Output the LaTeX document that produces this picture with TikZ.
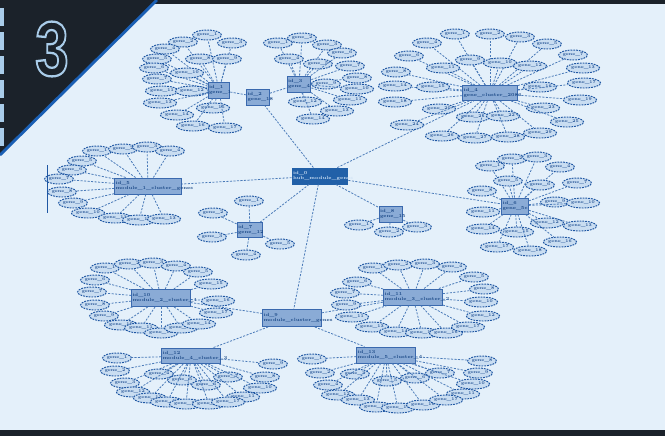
\documentclass[tikz,border=0pt]{standalone}
\usepackage{fontspec}
\newfontfamily\numfont{Liberation Sans}
\usetikzlibrary{shapes.geometric}
\definecolor{bg}{HTML}{E4F0FA}
\definecolor{corner}{HTML}{1B222A}
\definecolor{edgeblue}{HTML}{1A5FB4}
\definecolor{strip}{HTML}{A9CCE9}
\definecolor{genefill}{HTML}{C9DDF1}
\definecolor{genedraw}{HTML}{1F57A3}
\definecolor{genetext}{HTML}{1F4F92}
\definecolor{hubfill}{HTML}{8AABD6}
\definecolor{hubdraw}{HTML}{3A69AE}
\definecolor{hubtext}{HTML}{1A4886}
\definecolor{mainfill}{HTML}{2160A8}
\definecolor{maintext}{HTML}{D0E2F5}
\definecolor{linkcol}{HTML}{4A7AB8}
\newcommand\outlined[1]{\special{pdf:literal direct 2 Tr 1.3 w 0.663 0.8 0.914 RG}#1\special{pdf:literal direct 0 Tr}}
\tikzset{gene/.style={ellipse,draw=genedraw,fill=genefill,line width=0.55pt,dash pattern=on 1pt off 0.6pt,minimum width=0.5cm,minimum height=0.2cm,inner sep=0pt,font=\bfseries\fontsize{2.4}{3}\selectfont,text=genetext}}
\tikzset{hub/.style={rectangle,draw=hubdraw,fill=hubfill,line width=0.55pt,inner sep=0.5pt,minimum height=0.32cm,align=left,font=\bfseries\fontsize{2.6}{3}\selectfont,text=hubtext}}
\tikzset{mainhub/.style={hub,fill=mainfill,draw=mainfill,text=maintext}}
\tikzset{link/.style={draw=linkcol,line width=0.45pt,dash pattern=on 1.2pt off 0.8pt}}

\begin{document}
\begin{tikzpicture}[x=0.02cm,y=-0.02cm]
    \useasboundingbox (0,0) rectangle (665,436);
    % background and frame
    \fill[bg] (0,0) rectangle (665,436);
    \fill[corner] (0,0) rectangle (665,4);
    \fill[corner] (0,430) rectangle (665,436);
    \fill[corner] (0,0) -- (157,0) -- (0,155) -- cycle;
    \foreach \s in {8,32,56,80,104,128}
        \fill[strip] (0,\s) rectangle (4,\s+18);
    \coordinate (c1) at (157,0);
    \coordinate (c2) at (0,155);
    \draw[edgeblue,line width=1.6pt] (c1) -- (c2);
    \node[text=corner,font=\numfont\bfseries\fontsize{44}{44}\selectfont,xscale=0.78] (num) at (52,49) {\outlined{3}};

    % hubs
    \node[mainhub,text width=1.08cm] (C) at (320,176) {id\_0\\hub\_module\_genes};
    \node[hub,text width=0.4cm] (A1) at (219,90) {id\_1\\gene\_1};
    \node[hub,text width=0.42cm] (A2) at (258,97) {id\_2\\gene\_18};
    \node[hub,text width=0.44cm] (A3) at (299,84) {id\_3\\gene\_4};
    \node[hub,text width=1.06cm,minimum height=0.3cm] (A4) at (490,93) {id\_4\\gene\_cluster\_2086};
    \node[hub,text width=1.3cm] (A5) at (148,186) {id\_5\\module\_1\_cluster\_genes};
    \node[hub,text width=0.5cm] (A6) at (515,206) {id\_6\\gene\_5c};
    \node[hub,text width=0.48cm,minimum height=0.3cm] (A7) at (250,230) {id\_7\\gene\_12};
    \node[hub,text width=0.44cm] (A8) at (391,214) {id\_8\\gene\_15};
    \node[hub,text width=1.14cm,minimum height=0.34cm] (B) at (292,318) {id\_9\\module\_cluster\_genes};
    \node[hub,text width=1.14cm,minimum height=0.34cm] (B1) at (161,298) {id\_10\\module\_2\_cluster\_1};
    \node[hub,text width=1.14cm] (B2) at (413,297) {id\_11\\module\_3\_cluster\_2};
    \node[hub,text width=1.14cm,minimum height=0.3cm] (B3) at (191,356) {id\_12\\module\_4\_cluster\_3};
    \node[hub,text width=1.14cm] (B4) at (386,355) {id\_13\\module\_5\_cluster\_4};

    \draw[link] (C) -- (A2);
    \draw[link] (C) -- (A4);
    \draw[link] (C) -- (A5);
    \draw[link] (C) -- (A6);
    \draw[link] (C) -- (A7);
    \draw[link] (C) -- (A8);
    \draw[link] (C) -- (B);
    \draw[link] (A2) -- (A1);
    \draw[link] (A2) -- (A3);
    \draw[link] (B) -- (B1);
    \draw[link] (B) -- (B2);
    \draw[link] (B) -- (B3);
    \draw[link] (B) -- (B4);

    % gene clusters
    \foreach \x/\y [count=\i] in {207/35,183/42,232/43,165/49,157/59,154/68,157/79,200/59,227/59,187/73,162/91,192/91,160/103,177/115,213/108,193/126,225/128}{
        \node[gene] (a1-\i) at (\x,\y) {gene\_\i};
        \draw[link] (A1) -- (a1-\i);
    }
    \foreach \x/\y [count=\i] in {278/43,302/38,327/45,289/59,318/64,342/53,350/66,357/78,326/84,357/89,350/100,305/102,337/111,313/119}{
        \node[gene] (a3-\i) at (\x,\y) {gene\_\i};
        \draw[link] (A3) -- (a3-\i);
    }
    \foreach \x/\y [count=\i] in {455/34,490/34,520/37,427/43,547/44,409/56,573/55,396/72,470/60,500/63,443/68,530/66,583/68,395/86,433/87,540/87,584/83,395/102,580/100,439/109,473/117,503/116,543/108,407/125,567/122,442/136,475/138,508/137,540/133}{
        \node[gene] (a4-\i) at (\x,\y) {gene\_\i};
        \draw[link] (A4) -- (a4-\i);
    }
    \foreach \x/\y [count=\i] in {97/151,123/149,147/147,170/151,82/161,72/170,59/179,62/192,73/203,88/213,115/218,139/220,164/219}{
        \node[gene] (a5-\i) at (\x,\y) {gene\_\i};
        \draw[link] (A5) -- (a5-\i);
    }
    \coordinate (v1) at (47,165);
    \coordinate (v2) at (47,213);
    \draw[genedraw,line width=0.5pt] (v1) -- (v2);
    \foreach \x/\y [count=\i] in {490/166,512/159,537/157,560/167,508/181,540/185,577/183,482/191,555/202,583/203,483/212,547/223,580/226,483/229,517/232,560/242,497/247,530/251}{
        \node[gene] (a6-\i) at (\x,\y) {gene\_\i};
        \draw[link] (A6) -- (a6-\i);
    }
    \foreach \x/\y [count=\i] in {249/201,213/213,212/237,246/255,280/244}{
        \node[gene] (a7-\i) at (\x,\y) {gene\_\i};
        \draw[link] (A7) -- (a7-\i);
    }
    \foreach \x/\y [count=\i] in {359/225,389/232,417/227}{
        \node[gene] (a8-\i) at (\x,\y) {gene\_\i};
        \draw[link] (A8) -- (a8-\i);
    }
    \foreach \x/\y [count=\i] in {105/268,129/264,153/263,176/266,198/272,95/280,92/292,95/305,104/316,121/325,141/328,161/333,181/328,199/324,211/284,218/301,216/313}{
        \node[gene] (b1-\i) at (\x,\y) {gene\_\i};
        \draw[link] (B1) -- (b1-\i);
    }
    \foreach \x/\y [count=\i] in {373/268,398/265,425/264,452/267,474/277,357/282,345/293,484/289,346/305,481/302,352/317,483/316,372/327,396/332,422/333,446/333,468/327}{
        \node[gene] (b2-\i) at (\x,\y) {gene\_\i};
        \draw[link] (B2) -- (b2-\i);
    }
    \foreach \x/\y [count=\i] in {117/358,115/371,125/383,159/374,182/380,206/385,228/377,265/377,273/364,260/388,243/397,133/392,150/398,167/402,186/404,209/404,228/402}{
        \node[gene] (b3-\i) at (\x,\y) {gene\_\i};
        \draw[link] (B3) -- (b3-\i);
    }
    \foreach \x/\y [count=\i] in {312/359,320/373,355/374,328/385,387/381,415/378,440/373,482/361,478/373,473/384,463/394,338/395,358/400,376/407,398/408,423/405,446/400}{
        \node[gene] (b4-\i) at (\x,\y) {gene\_\i};
        \draw[link] (B4) -- (b4-\i);
    }
\end{tikzpicture}
\end{document}
